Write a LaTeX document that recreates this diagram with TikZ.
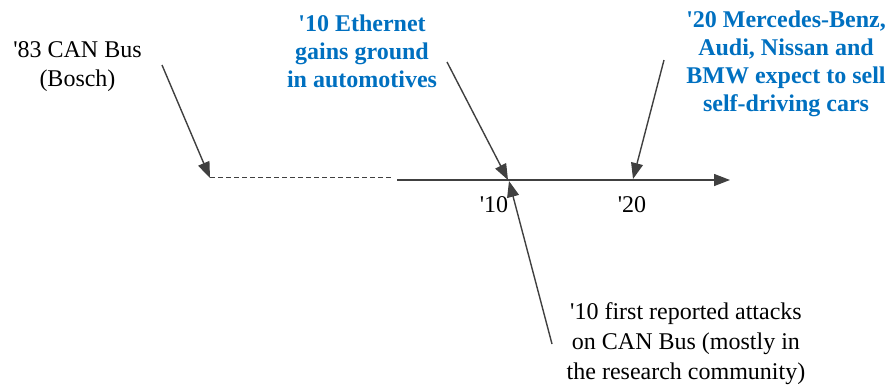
\documentclass[tikz,border=0pt]{standalone}
\usepackage{fontspec}
\setmainfont{Liberation Serif}
\usetikzlibrary{arrows.meta}
\definecolor{linegray}{RGB}{64,64,64}
\definecolor{evblue}{RGB}{0,112,192}
\newcommand{\ap}{\textquotesingle}
\tikzset{
  conn/.style={draw=linegray, line width=1.4pt, -{Triangle[length=16pt,width=12pt]}},
  plain/.style={font=\fontsize{24}{29}\selectfont, align=center, inner sep=0pt, text=black},
  attach/.style={font=\fontsize{24}{30}\selectfont, align=center, inner sep=0pt, text=black},
  hilite/.style={font=\fontsize{24}{28}\selectfont\bfseries, align=center, inner sep=0pt, text=evblue},
  tick/.style={font=\fontsize{24}{28}\selectfont, inner sep=0pt}
}
\begin{document}
\begin{tikzpicture}[x=1pt,y=-1pt]
\useasboundingbox (0,0) rectangle (891,386);
% timeline
\coordinate (d0) at (210,177.5);
\coordinate (d1) at (393,177.5);
\coordinate (s0) at (397,180);
\coordinate (s1) at (730,180);
\draw[linegray, line width=0.9pt, dash pattern=on 5pt off 3pt] (d0) -- (d1);
\draw[conn] (s0) -- (s1);
% labels
\node[plain] (can) at (77.5,67) {\ap83 CAN Bus\\(Bosch)};
\node[hilite] (eth) at (362,51) {\ap10 Ethernet\\gains ground\\in automotives};
\node[hilite] (merc) at (786,64) {\ap20 Mercedes-Benz,\\Audi, Nissan and\\BMW expect to sell\\self-driving cars};
\node[attach] (att) at (686,344) {\ap10 first reported attacks\\on CAN Bus (mostly in\\the research community)};
\node[tick] (t10) at (494,205) {\ap10};
\node[tick] (t20) at (632,205) {\ap20};
% arrow endpoints
\coordinate (a0) at (162,65);
\coordinate (a1) at (210,178);
\coordinate (b0) at (447,62);
\coordinate (b1) at (508,180);
\coordinate (c0) at (664,60);
\coordinate (c1) at (633,179);
\coordinate (e0) at (552,344);
\coordinate (e1) at (509,181);
\draw[conn] (a0) -- (a1);
\draw[conn] (b0) -- (b1);
\draw[conn] (c0) -- (c1);
\draw[conn] (e0) -- (e1);
\end{tikzpicture}
\end{document}
